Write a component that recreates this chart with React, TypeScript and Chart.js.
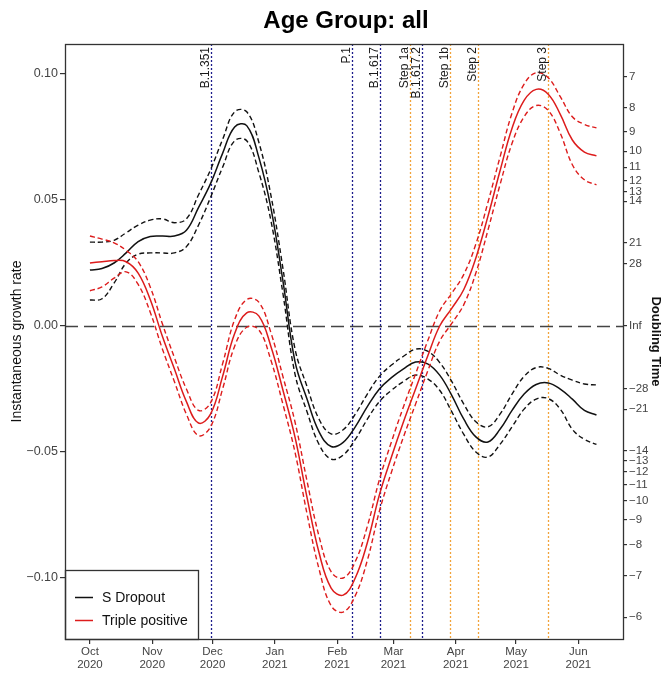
import React, { useEffect, useRef } from 'react';
import { Chart, registerables } from 'chart.js';

Chart.register(...registerables);

const FONT = '"Liberation Sans", Arial, Helvetica, sans-serif';

// days since 1 Oct 2020
const days = [0, 6, 12, 18, 24, 30, 36, 42, 48, 54, 60, 66, 72, 78, 84, 90, 96, 102, 108, 114, 120, 126, 132, 138, 144, 150, 156, 162, 168, 174, 180, 186, 192, 198, 204, 210, 216, 222, 228, 234, 240, 246, 252];

const sDropoutMid = [0.0222, 0.0228, 0.025, 0.029, 0.0335, 0.0355, 0.0357, 0.0357, 0.038, 0.047, 0.0565, 0.0685, 0.079, 0.0795, 0.067, 0.047, 0.018, -0.014, -0.029, -0.042, -0.0478, -0.0462, -0.04, -0.032, -0.025, -0.0205, -0.017, -0.0143, -0.015, -0.0195, -0.0275, -0.037, -0.044, -0.046, -0.041, -0.0335, -0.027, -0.0232, -0.0226, -0.025, -0.029, -0.0335, -0.0353];
const sDropoutHi = [0.0333, 0.0333, 0.034, 0.037, 0.04, 0.042, 0.0425, 0.041, 0.0425, 0.052, 0.062, 0.074, 0.085, 0.085, 0.073, 0.052, 0.023, -0.009, -0.024, -0.037, -0.0428, -0.0412, -0.035, -0.027, -0.02, -0.0155, -0.012, -0.0092, -0.01, -0.0145, -0.022, -0.031, -0.038, -0.04, -0.035, -0.027, -0.02, -0.0165, -0.0168, -0.0195, -0.0215, -0.023, -0.0234];
const sDropoutLo = [0.0103, 0.0108, 0.017, 0.025, 0.0285, 0.029, 0.029, 0.029, 0.0315, 0.04, 0.051, 0.063, 0.0735, 0.0735, 0.061, 0.042, 0.013, -0.019, -0.034, -0.047, -0.0528, -0.0512, -0.045, -0.037, -0.03, -0.0255, -0.022, -0.0195, -0.021, -0.0255, -0.034, -0.043, -0.05, -0.052, -0.047, -0.04, -0.033, -0.029, -0.0288, -0.033, -0.041, -0.045, -0.047];

const triplePosMid = [0.025, 0.0255, 0.026, 0.0255, 0.021, 0.0105, -0.004, -0.017, -0.03, -0.0385, -0.035, -0.02, -0.003, 0.0052, 0.004, -0.008, -0.0254, -0.044, -0.068, -0.09, -0.104, -0.1068, -0.1, -0.086, -0.067, -0.052, -0.038, -0.025, -0.012, 0.0, 0.007, 0.0145, 0.027, 0.0435, 0.0615, 0.0785, 0.0895, 0.0939, 0.092, 0.084, 0.0738, 0.069, 0.0675];
const triplePosHi = [0.0357, 0.0345, 0.033, 0.03, 0.0255, 0.0155, 0.001, -0.0125, -0.025, -0.0335, -0.0305, -0.015, 0.0025, 0.0105, 0.0095, -0.0025, -0.02, -0.038, -0.0615, -0.0835, -0.0975, -0.1, -0.0935, -0.0795, -0.061, -0.046, -0.032, -0.019, -0.006, 0.006, 0.013, 0.0205, 0.0325, 0.049, 0.067, 0.0845, 0.096, 0.1005, 0.0985, 0.091, 0.083, 0.08, 0.0786];
const triplePosLo = [0.014, 0.0155, 0.019, 0.0215, 0.0165, 0.0055, -0.009, -0.022, -0.035, -0.0435, -0.04, -0.025, -0.008, -0.0005, -0.0015, -0.0135, -0.031, -0.05, -0.0745, -0.0965, -0.111, -0.1135, -0.107, -0.093, -0.0735, -0.058, -0.044, -0.031, -0.018, -0.006, 0.001, 0.0085, 0.021, 0.038, 0.056, 0.0725, 0.083, 0.0875, 0.0855, 0.0765, 0.064, 0.058, 0.056];

const monthTickDays = [0, 31, 61, 92, 123, 151, 182, 212, 243];
const monthTickLabels = [['Oct', '2020'], ['Nov', '2020'], ['Dec', '2020'], ['Jan', '2021'], ['Feb', '2021'], ['Mar', '2021'], ['Apr', '2021'], ['May', '2021'], ['Jun', '2021']];

const leftTicks = [-0.1, -0.05, 0, 0.05, 0.1];
const leftTickLabels = ['\u22120.10', '\u22120.05', '0.00', '0.05', '0.10'];

const doublingTimes = [7, 8, 9, 10, 11, 12, 13, 14, 21, 28, Infinity, -28, -21, -14, -13, -12, -11, -10, -9, -8, -7, -6];
const doublingLabels = ['7', '8', '9', '10', '11', '12', '13', '14', '21', '28', 'Inf', '\u221228', '\u221221', '\u221214', '\u221213', '\u221212', '\u221211', '\u221210', '\u22129', '\u22128', '\u22127', '\u22126'];

const eventDays = [60, 130.2, 144.3, 159.2, 165.2, 179.1, 193, 227.9];
const eventLabels = ['B.1.351', 'P.1', 'B.1.617', 'Step 1a', 'B.1.617.2', 'Step 1b', 'Step 2', 'Step 3'];
const eventKinds = ['variant', 'variant', 'variant', 'step', 'variant', 'step', 'step', 'step'];

const Y_MIN = -0.1242;
const Y_MAX = 0.1119;
const X_MIN = -12.4;
const X_MAX = 265.2;

const BLACK = '#111111';
const RED = '#dd1c1c';

const pts = (vals: number[]) => vals.map((v, i) => ({ x: days[i], y: v }));

const decorPlugin = {
  id: 'decor',
  beforeDatasetsDraw(chart: any) {
    const { ctx, chartArea: a, scales } = chart;
    const xs = scales.x;
    const ys = scales.y;
    ctx.save();
    eventDays.forEach((d, i) => {
      const px = Math.round(xs.getPixelForValue(d)) + 0.5;
      ctx.beginPath();
      ctx.setLineDash([2, 2]);
      ctx.lineWidth = 1.3;
      ctx.strokeStyle = eventKinds[i] === 'step' ? '#f2a33a' : '#1d1d8c';
      ctx.moveTo(px, a.top);
      ctx.lineTo(px, a.bottom);
      ctx.stroke();
    });
    const py = Math.round(ys.getPixelForValue(0)) + 0.5;
    ctx.beginPath();
    ctx.setLineDash([13, 6]);
    ctx.lineWidth = 1.7;
    ctx.strokeStyle = '#444444';
    ctx.moveTo(a.left, py);
    ctx.lineTo(a.right, py);
    ctx.stroke();
    ctx.restore();
  },
  afterDatasetsDraw(chart: any) {
    const { ctx, chartArea: a, scales } = chart;
    const xs = scales.x;
    ctx.save();
    // event labels
    ctx.fillStyle = '#1a1a1a';
    ctx.font = `12px ${FONT}`;
    ctx.textAlign = 'right';
    ctx.textBaseline = 'alphabetic';
    eventDays.forEach((d, i) => {
      const px = xs.getPixelForValue(d);
      ctx.save();
      ctx.translate(px - 2, a.top + 3);
      ctx.rotate(-Math.PI / 2);
      ctx.fillText(eventLabels[i], 0, 0);
      ctx.restore();
    });
    // legend
    const lx = a.left;
    const ly = 570;
    const lw = 133;
    const lh = a.bottom - ly;
    ctx.fillStyle = '#ffffff';
    ctx.fillRect(lx, ly, lw, lh);
    ctx.setLineDash([]);
    ctx.lineWidth = 1.3;
    ctx.strokeStyle = '#333333';
    ctx.strokeRect(lx + 0.5, ly + 0.5, lw, lh);
    const items = [
      { label: 'S Dropout', color: BLACK, y: 597 },
      { label: 'Triple positive', color: RED, y: 620 },
    ];
    ctx.font = `14px ${FONT}`;
    ctx.textAlign = 'left';
    ctx.textBaseline = 'middle';
    items.forEach((it) => {
      ctx.beginPath();
      ctx.strokeStyle = it.color;
      ctx.lineWidth = 1.5;
      ctx.moveTo(lx + 10, it.y + 0.5);
      ctx.lineTo(lx + 28, it.y + 0.5);
      ctx.stroke();
      ctx.fillStyle = '#111111';
      ctx.fillText(it.label, lx + 37, it.y + 1);
    });
    // box
    ctx.lineWidth = 1.3;
    ctx.strokeStyle = '#333333';
    ctx.strokeRect(a.left + 0.5, a.top + 0.5, a.right - a.left, a.bottom - a.top);
    // title
    ctx.fillStyle = '#000000';
    ctx.font = `bold 24px ${FONT}`;
    ctx.textAlign = 'center';
    ctx.textBaseline = 'middle';
    ctx.fillText('Age Group: all', 346, 21);
    ctx.restore();
  },
};

export default function App() {
  const ref = useRef<HTMLCanvasElement | null>(null);

  useEffect(() => {
    if (!ref.current) return;
    const lineDs = (label: string, vals: number[], color: string, dashed: boolean, order: number) => ({
      label,
      data: pts(vals),
      borderColor: color,
      backgroundColor: color,
      borderWidth: dashed ? 1.4 : 1.5,
      borderDash: dashed ? [5, 3] : [],
      pointRadius: 0,
      tension: 0.4,
      fill: false,
      yAxisID: 'y',
      xAxisID: 'x',
      order,
    });
    const chart = new Chart(ref.current, {
      type: 'line',
      data: {
        datasets: [
          lineDs('Triple positive', triplePosMid, RED, false, 0),
          lineDs('Triple positive upper', triplePosHi, RED, true, 1),
          lineDs('Triple positive lower', triplePosLo, RED, true, 2),
          lineDs('S Dropout', sDropoutMid, BLACK, false, 3),
          lineDs('S Dropout upper', sDropoutHi, BLACK, true, 4),
          lineDs('S Dropout lower', sDropoutLo, BLACK, true, 5),
        ],
      },
      options: {
        responsive: false,
        animation: false,
        devicePixelRatio: 1,
        layout: { padding: { top: 44, left: 0, right: 0, bottom: 0 } },
        plugins: {
          legend: { display: false },
          title: { display: false },
          tooltip: { enabled: false },
        },
        scales: {
          x: {
            type: 'linear',
            position: 'bottom',
            min: X_MIN,
            max: X_MAX,
            afterBuildTicks: (s: any) => {
              s.ticks = monthTickDays.map((v) => ({ value: v }));
            },
            afterFit: (s: any) => {
              s.height = 36;
            },
            ticks: {
              autoSkip: false,
              maxRotation: 0,
              color: '#444444',
              padding: 1,
              font: { size: 11.5, family: FONT, lineHeight: 1.15 },
              callback: (_v: any, i: number) => monthTickLabels[i],
            },
            grid: { display: true, drawOnChartArea: false, drawTicks: true, tickLength: 5, color: '#333333', lineWidth: 1.2 },
            border: { display: false },
          },
          y: {
            type: 'linear',
            position: 'left',
            min: Y_MIN,
            max: Y_MAX,
            afterBuildTicks: (s: any) => {
              s.ticks = leftTicks.map((v) => ({ value: v }));
            },
            afterFit: (s: any) => {
              s.width = 65;
            },
            ticks: {
              autoSkip: false,
              color: '#444444',
              padding: 2,
              font: { size: 12.5, family: FONT },
              callback: (_v: any, i: number) => leftTickLabels[i],
            },
            grid: { display: true, drawOnChartArea: false, drawTicks: true, tickLength: 5, color: '#333333', lineWidth: 1.2 },
            border: { display: false },
            title: {
              display: true,
              text: 'Instantaneous growth rate',
              color: '#111111',
              font: { size: 14, family: FONT },
              padding: { top: 8.6, bottom: 0 },
            },
          },
          y2: {
            type: 'linear',
            position: 'right',
            min: Y_MIN,
            max: Y_MAX,
            afterBuildTicks: (s: any) => {
              s.ticks = doublingTimes.map((d) => ({ value: Math.LN2 / d }));
            },
            afterFit: (s: any) => {
              s.width = 43;
            },
            ticks: {
              autoSkip: false,
              color: '#444444',
              padding: 2,
              font: { size: 11.5, family: FONT },
              callback: (_v: any, i: number) => doublingLabels[i],
            },
            grid: { display: true, drawOnChartArea: false, drawTicks: true, tickLength: 4, color: '#333333', lineWidth: 1.2 },
            border: { display: false },
            title: {
              display: true,
              text: 'Doubling Time',
              color: '#111111',
              font: { size: 13, weight: 'bold', family: FONT },
              padding: { top: 2.2, bottom: 0 },
            },
          },
        },
      },
      plugins: [decorPlugin],
    });
    return () => chart.destroy();
  }, []);

  return (
    <div style={{ position: 'fixed', left: 0, top: 0, width: 666, height: 675, background: '#fff' }}>
      <canvas ref={ref} width={666} height={675} style={{ width: 666, height: 675, display: 'block' }} />
    </div>
  );
}
